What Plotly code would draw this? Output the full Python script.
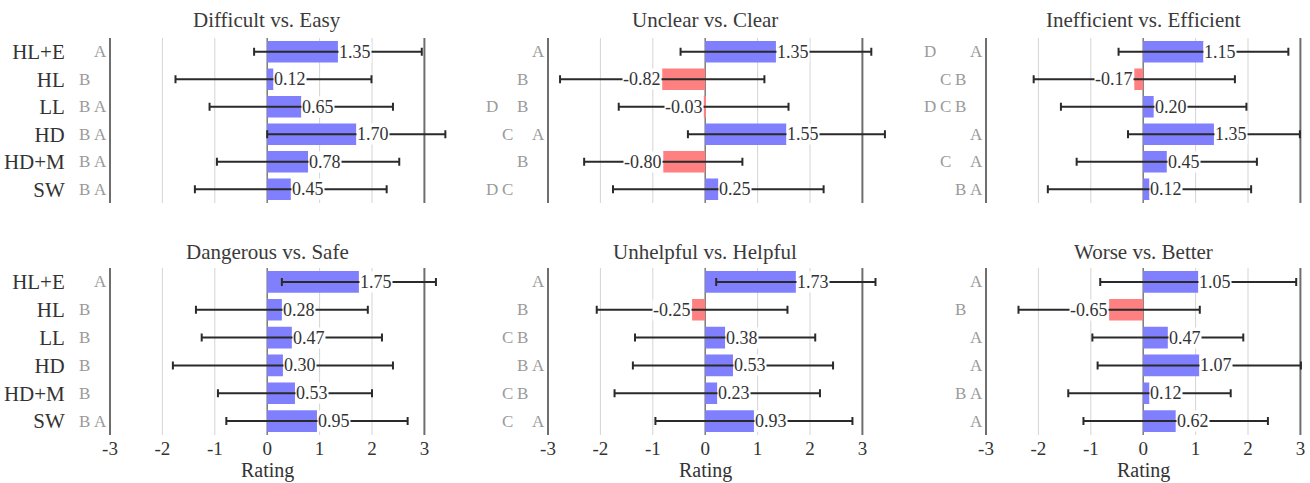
import plotly.graph_objects as go

groups = ["HL+E", "HL", "LL", "HD", "HD+M", "SW"]

titles = ["Difficult vs. Easy", "Unclear vs. Clear", "Inefficient vs. Efficient",
          "Dangerous vs. Safe", "Unhelpful vs. Helpful", "Worse vs. Better"]

mean_easy = [1.35, 0.12, 0.65, 1.70, 0.78, 0.45]
sd_easy = [1.60, 1.87, 1.75, 1.70, 1.74, 1.83]
letters_easy = ["A", "B", "B A", "B A", "B A", "B A"]

mean_clear = [1.35, -0.82, -0.03, 1.55, -0.80, 0.25]
sd_clear = [1.82, 1.95, 1.62, 1.88, 1.51, 2.01]
letters_clear = ["A", "B", "D B", "C A", "B", "D C"]

mean_efficient = [1.15, -0.17, 0.20, 1.35, 0.45, 0.12]
sd_efficient = [1.62, 1.92, 1.77, 1.64, 1.72, 1.94]
letters_efficient = ["D A", "C B", "D C B", "A", "C A", "B A"]

mean_safe = [1.75, 0.28, 0.47, 0.30, 0.53, 0.95]
sd_safe = [1.47, 1.64, 1.72, 2.10, 1.47, 1.73]
letters_safe = ["A", "B", "B", "B", "B", "B A"]

mean_helpful = [1.73, -0.25, 0.38, 0.53, 0.23, 0.93]
sd_helpful = [1.52, 1.82, 1.72, 1.91, 1.96, 1.88]
letters_helpful = ["A", "B", "C B", "B A", "C B", "C A"]

mean_better = [1.05, -0.65, 0.47, 1.07, 0.12, 0.62]
sd_better = [1.87, 1.73, 1.44, 1.94, 1.55, 1.76]
letters_better = ["A", "B", "A", "A", "B A", "A"]

panels = [
    (mean_easy, sd_easy, letters_easy),
    (mean_clear, sd_clear, letters_clear),
    (mean_efficient, sd_efficient, letters_efficient),
    (mean_safe, sd_safe, letters_safe),
    (mean_helpful, sd_helpful, letters_helpful),
    (mean_better, sd_better, letters_better),
]

ticks = [-3, -2, -1, 0, 1, 2, 3]

W, H = 1310, 483
FONT = "'Liberation Serif', 'DejaVu Serif', serif"
TXT = "#333333"
BLUE = "rgb(128,128,255)"
RED = "rgb(255,128,128)"

# pixel position of x=-3 and px per unit, per column; right extent of axis (in units)
x_left_px = [110, 548, 986]
px_per_unit = 52.4
x_right_val = [3.5, 3.5, 3.1]
y_px = [(38, 203), (268, 435)]

fig = go.Figure()
annotations = []
shapes = []
layout_axes = {}

for i, (means, sds, letters) in enumerate(panels):
    n = i + 1
    row, col = divmod(i, 3)
    xs = "" if n == 1 else str(n)
    x0p = x_left_px[col]
    span = x_right_val[col] + 3
    x1p = x0p + px_per_unit * span
    xd = [x0p / W, x1p / W]
    yd = [1 - y_px[row][1] / H, 1 - y_px[row][0] / H]
    colors = [BLUE if m >= 0 else RED for m in means]
    fig.add_trace(go.Bar(
        x=means, y=groups, orientation="h", width=0.78,
        marker=dict(color=colors, line=dict(width=0)),
        xaxis="x" + xs, yaxis="y" + xs, hoverinfo="skip", showlegend=False,
    ))
    fig.add_trace(go.Scatter(
        x=means, y=groups, mode="markers",
        marker=dict(size=1, color="rgba(0,0,0,0)"),
        error_x=dict(type="data", array=sds, color="#2a2a2a", thickness=2, width=4),
        xaxis="x" + xs, yaxis="y" + xs,
        hoverinfo="skip", showlegend=False,
    ))
    layout_axes["xaxis" + xs] = dict(
        domain=xd, range=[-3, x_right_val[col]], anchor="y" + xs,
        tickvals=ticks, ticktext=[str(t) for t in ticks],
        showticklabels=(row == 1), ticks="",
        showgrid=False, zeroline=False,
        showline=False, automargin=False,
        tickfont=dict(family=FONT, size=19, color=TXT),
        fixedrange=True,
    )
    layout_axes["yaxis" + xs] = dict(
        domain=yd, anchor="x" + xs, type="category",
        categoryorder="array", categoryarray=groups,
        range=[5.5, -0.5],
        showticklabels=(col == 0), ticks="outside", ticklen=40,
        tickcolor="rgba(0,0,0,0)", automargin=False,
        showgrid=False, zeroline=False, showline=False,
        tickfont=dict(family=FONT, size=21, color=TXT),
        fixedrange=True,
    )
    # grid, zero and frame lines
    for xv in ticks:
        if abs(xv) == 3:
            lc, lw = "#6e6e6e", 2
        elif xv == 0:
            lc, lw = "#7a7a7a", 1.5
        else:
            lc, lw = "#d4d4d4", 1
        xf = (xv + 3) / span
        shapes.append(dict(type="line", xref="x" + xs + " domain", yref="y" + xs + " domain",
                           x0=xf, x1=xf, y0=0, y1=1, layer="below",
                           line=dict(color=lc, width=lw)))
    axis_mid = (x0p + 3 * px_per_unit) / W
    # title
    annotations.append(dict(text=titles[i], xref="paper", yref="paper",
                            x=axis_mid, y=1 - (20 if row == 0 else 252) / H,
                            xanchor="center", yanchor="middle", showarrow=False,
                            font=dict(family=FONT, size=21, color="#3a3a3a")))
    if row == 1:
        annotations.append(dict(text="Rating", xref="paper", yref="paper",
                                x=axis_mid, y=1 - 470 / H,
                                xanchor="center", yanchor="middle", showarrow=False,
                                font=dict(family=FONT, size=20, color=TXT)))
    # value labels
    for g, m in zip(groups, means):
        annotations.append(dict(text=f"{m:.2f}", xref="x" + xs, yref="y" + xs,
                                x=m, y=g, xanchor="left" if m >= 0 else "right",
                                yanchor="middle", showarrow=False, bgcolor="white",
                                borderpad=0, font=dict(family=FONT, size=18, color=TXT)))
    # significance letters
    for g, s in zip(groups, letters):
        for L in s.split():
            k = ord(L) - ord("A")
            annotations.append(dict(text=L, xref="paper", yref="y" + xs,
                                    x=(x0p - 10 - 15.5 * k) / W, y=g,
                                    xanchor="center", yanchor="middle", showarrow=False,
                                    font=dict(family=FONT, size=17, color="#9a9a9a")))

fig.update_layout(
    width=W, height=H, margin=dict(l=0, r=0, t=0, b=0),
    paper_bgcolor="white", plot_bgcolor="white",
    barmode="overlay", annotations=annotations, shapes=shapes,
    **layout_axes,
)

fig.write_html("out.html")
